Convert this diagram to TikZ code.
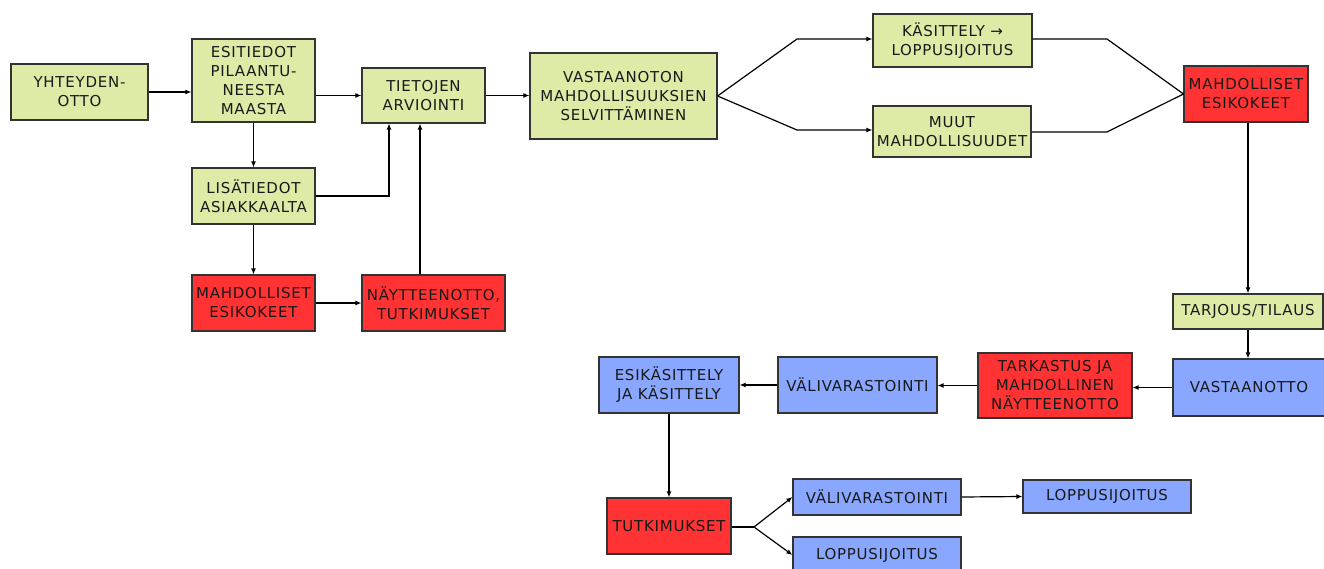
\documentclass[tikz,border=0pt]{standalone}
\usepackage{fontspec}
\setmainfont{DejaVu Sans}[LetterSpace=5]
\usetikzlibrary{arrows.meta}
\definecolor{gfill}{HTML}{DDEBA7}
\definecolor{rfill}{HTML}{FF3333}
\definecolor{bfill}{HTML}{89A7FF}
\definecolor{edgec}{HTML}{333333}
\begin{document}
\begin{tikzpicture}[x=1pt,y=-1pt,
 box/.style={draw=edgec, line width=1.1pt, inner sep=0pt, align=center, font=\fontsize{15}{19}\selectfont, text=black!90},
 gbox/.style={box, fill=gfill},
 rbox/.style={box, fill=rfill},
 bbox/.style={box, fill=bfill},
 arr/.style={draw=black, line width=1.2pt, -{Latex[length=6pt,width=5pt]}},
 ln/.style={draw=black, line width=1.2pt}]
\useasboundingbox (0,0) rectangle (1324,569);
% nodes
\node[gbox,minimum width=137,minimum height=56] (yht) at (79.5,92) {YHTEYDEN-\\OTTO};
\node[gbox,minimum width=123,minimum height=83] (esi) at (253.5,80.5) {ESITIEDOT\\PILAANTU-\\NEESTA\\MAASTA};
\node[gbox,minimum width=123,minimum height=55] (tie) at (423.5,95.5) {TIETOJEN\\ARVIOINTI};
\node[gbox,minimum width=123,minimum height=56] (lis) at (253.5,196) {LISÄTIEDOT\\ASIAKKAALTA};
\node[rbox,minimum width=123,minimum height=56] (mah1) at (253.5,303) {MAHDOLLISET\\ESIKOKEET};
\node[rbox,minimum width=143,minimum height=56] (nay) at (433.5,303) {NÄYTTEENOTTO,\\TUTKIMUKSET};
\node[gbox,minimum width=187,minimum height=86] (vas) at (623.5,96) {VASTAANOTON\\MAHDOLLISUUKSIEN\\SELVITTÄMINEN};
\node[gbox,minimum width=159,minimum height=53] (kas) at (952.5,40.5) {KÄSITTELY →\\LOPPUSIJOITUS};
\node[gbox,minimum width=158,minimum height=51] (muu) at (952,131.5) {MUUT\\MAHDOLLISUUDET};
\node[rbox,minimum width=124,minimum height=56] (mah2) at (1246,94) {MAHDOLLISET\\ESIKOKEET};
\node[gbox,minimum width=150,minimum height=35] (tar) at (1248,311.5) {TARJOUS/TILAUS};
\node[bbox,minimum width=152,minimum height=57] (vsto) at (1249,387.5) {VASTAANOTTO};
\node[rbox,minimum width=154,minimum height=65] (tark) at (1055,385.5) {TARKASTUS JA\\MAHDOLLINEN\\NÄYTTEENOTTO};
\node[bbox,minimum width=159,minimum height=56] (val1) at (857.5,385) {VÄLIVARASTOINTI};
\node[bbox,minimum width=140,minimum height=56] (esk) at (669,385) {ESIKÄSITTELY\\JA KÄSITTELY};
\node[rbox,minimum width=124,minimum height=56] (tut) at (669,526) {TUTKIMUKSET};
\node[bbox,minimum width=168,minimum height=36] (val2) at (877,497) {VÄLIVARASTOINTI};
\node[bbox,minimum width=168,minimum height=33] (lop1) at (1107,496.5) {LOPPUSIJOITUS};
\node[bbox,minimum width=168,minimum height=36] (lop2) at (877,555) {LOPPUSIJOITUS};
% helper coordinates
\coordinate (n1) at ([xshift=-13.5pt]nay.north);
\coordinate (t1) at ([xshift=-34.5pt]tie.south);
\coordinate (k1) at (797,39);
\coordinate (k2) at (797,130);
\coordinate (k3) at (1107,39);
\coordinate (k4) at (1107,132);
\coordinate (f) at (754,527);
% connectors, left part
\draw[arr] (yht.east) -- (esi.west |- yht.east);
\draw[arr] (esi.east |- tie.west) -- (tie.west);
\draw[arr] (tie.east) -- (vas.west |- tie.east);
\draw[arr] (esi.south) -- (lis.north);
\draw[arr] (lis.east) -| (t1);
\draw[arr] (n1) -- (n1 |- tie.south);
\draw[arr] (lis.south) -- (mah1.north);
\draw[arr] (mah1.east) -- (nay.west);
% fork to the two options
\draw[arr] (vas.east) -- (k1) -- (k1 -| kas.west);
\draw[arr] (vas.east) -- (k2) -- (k2 -| muu.west);
\draw[ln] (kas.east |- k3) -- (k3) -- (mah2.west);
\draw[ln] (muu.east |- k4) -- (k4) -- (mah2.west);
% right column and bottom
\draw[arr] (tar.north |- mah2.south) -- (tar.north);
\draw[arr] (tar.south) -- (tar.south |- vsto.north);
\draw[arr] (vsto.west) -- (tark.east |- vsto.west);
\draw[arr] (tark.west) -- (val1.east |- tark.west);
\draw[arr] (val1.west) -- (esk.east);
\draw[arr] (esk.south) -- (esk.south |- tut.north);
\draw[ln] (tut.east |- f) -- (f);
\draw[arr] (f) -- (val2.west);
\draw[arr] (f) -- (lop2.west);
\draw[arr] (val2.east) -- (lop1.west);
\end{tikzpicture}
\end{document}
